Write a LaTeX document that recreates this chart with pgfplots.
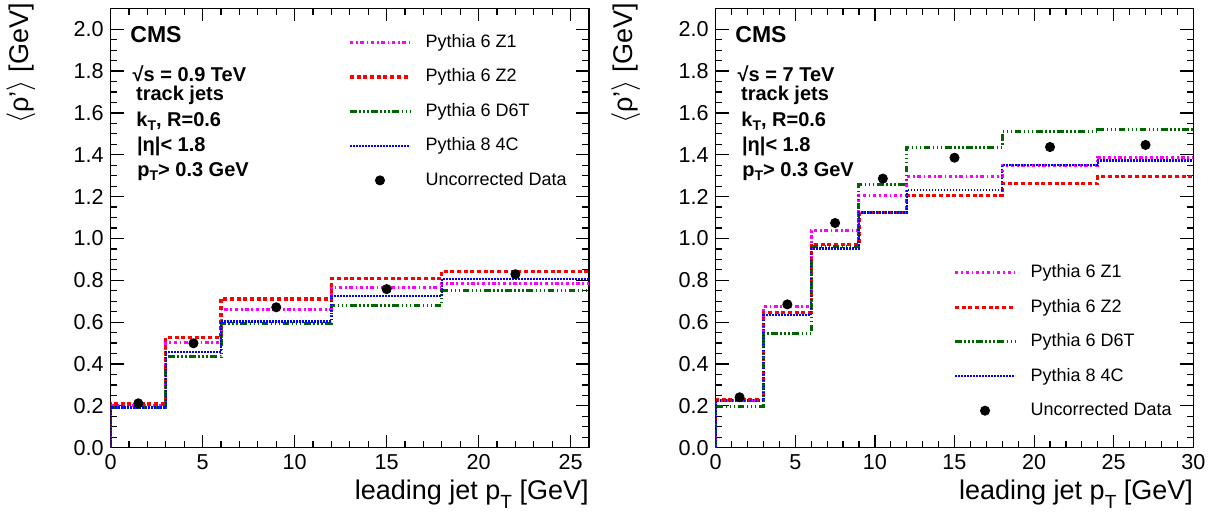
\documentclass[border=0pt]{standalone}
\usepackage{fontspec}
\setmainfont{Liberation Sans}
\usepackage{pgfplots}
\pgfplotsset{compat=1.18}

\definecolor{zone}{rgb}{1,0,1}
\definecolor{ztwo}{rgb}{1,0,0}
\definecolor{dsixt}{rgb}{0,0.4,0}
\definecolor{fourc}{rgb}{0,0,1}

\newcommand\sub[1]{\raisebox{-0.45ex}{\fontsize{7}{8}\selectfont #1}}
\newcommand\bigsub[1]{\raisebox{-0.6ex}{\fontsize{9.5}{10}\selectfont #1}}

\pgfplotsset{
  rootstyle/.style={
    scale only axis,
    anchor=south west,
    height=219.7pt,
    ymin=0, ymax=2.1,
    ytick={0,0.2,0.4,0.6,0.8,1.0,1.2,1.4,1.6,1.8,2.0},
    minor y tick num=3,
    minor x tick num=4,
    tick align=inside,
    major tick length=6.5pt,
    minor tick length=3.3pt,
    axis line style={line width=0.7pt},
    every tick/.style={black, line width=0.6pt},
    ticklabel style={font=\fontsize{10.8}{12}\selectfont},
    /pgf/number format/assume math mode=true,
    yticklabel style={/pgf/number format/.cd, fixed, fixed zerofill, precision=1},
    xlabel={leading jet p\bigsub{T} [GeV]},
    ylabel={{$\langle$}ρ'{$\rangle$} [GeV]},
    label style={font=\fontsize{13.5}{15}\selectfont},
    xlabel style={at={(rel axis cs:1,0)}, anchor=base east, inner sep=0pt, yshift=-26pt},
    legend cell align=left,
    legend image code/.code={\draw[##1] (0pt,0pt) -- (30pt,0pt);},
    legend style={draw=none, fill=none, font=\fontsize{9}{11}\selectfont,
      anchor=north west, row sep=4.25pt, column sep=5pt, inner sep=0pt,
      nodes={inner sep=2pt, text height=7pt, text depth=2pt}},
  },
  zonestyle/.style={zone, line width=1.5pt, const plot, dash pattern=on 1.7pt off 1.35pt on 0.85pt off 1.35pt},
  ztwostyle/.style={ztwo, line width=1.6pt, const plot, dash pattern=on 2pt off 1.35pt},
  dsixtstyle/.style={dsixt, line width=1.5pt, const plot, dash pattern=on 3.3pt off 1.3pt on 0.7pt off 1.3pt on 0.7pt off 1.3pt on 0.7pt off 1.3pt},
  fourcstyle/.style={fourc, line width=1.2pt, const plot, dash pattern=on 0.8pt off 0.7pt},
  datastyle/.style={black, only marks, mark=*, mark size=2.3pt,
    legend image code/.code={\draw[##1] plot coordinates {(15pt,0pt)};}},
}

\begin{document}
\begin{tikzpicture}
\useasboundingbox (0,0) rectangle (608.5pt,255.5pt);

% left panel, sqrt(s) = 0.9 TeV
\begin{axis}[rootstyle,
  at={(55.35pt,31.65pt)}, width=239.15pt,
  xmin=0, xmax=26, xtick={0,5,10,15,20,25},
  ylabel style={at={(rel axis cs:-0.1729,1.0121)}, anchor=base east, inner sep=0pt},
  legend style={at={(0.4961,0.9529)}},
]
\addplot[zonestyle] coordinates {(0,0) (0,0.200) (3,0.502) (6,0.661) (12,0.766) (18,0.786) (26,0.786)};
\addlegendentry{Pythia 6 Z1}
\addplot[ztwostyle] coordinates {(0,0) (0,0.209) (3,0.527) (6,0.711) (12,0.808) (18,0.843) (26,0.843)};
\addlegendentry{Pythia 6 Z2}
\addplot[dsixtstyle] coordinates {(0,0) (0,0.190) (3,0.435) (6,0.596) (12,0.680) (18,0.749) (26,0.749)};
\addlegendentry{Pythia 6 D6T}
\addplot[fourcstyle] coordinates {(0,0) (0,0.193) (3,0.457) (6,0.604) (12,0.725) (18,0.806) (26,0.806)};
\addlegendentry{Pythia 8 4C}
\addplot[datastyle] coordinates {(1.5,0.212) (4.5,0.499) (9,0.671) (15,0.758) (22,0.829)};
\addlegendentry{Uncorrected Data}
\end{axis}

% right panel, sqrt(s) = 7 TeV
\begin{axis}[rootstyle,
  at={(357.85pt,31.65pt)}, width=238.8pt,
  xmin=0, xmax=30, xtick={0,5,10,15,20,25,30},
  ylabel style={at={(rel axis cs:-0.1732,1.0121)}, anchor=base east, inner sep=0pt},
  legend style={at={(0.4969,0.4288)}},
]
\addplot[zonestyle] coordinates {(0,0) (0,0.228) (3,0.674) (6,1.036) (9,1.205) (12,1.294) (18,1.350) (24,1.388) (30,1.388)};
\addlegendentry{Pythia 6 Z1}
\addplot[ztwostyle] coordinates {(0,0) (0,0.228) (3,0.647) (6,0.972) (9,1.125) (12,1.206) (18,1.262) (24,1.295) (30,1.295)};
\addlegendentry{Pythia 6 Z2}
\addplot[dsixtstyle] coordinates {(0,0) (0,0.199) (3,0.545) (6,0.961) (9,1.256) (12,1.437) (18,1.509) (24,1.519) (30,1.519)};
\addlegendentry{Pythia 6 D6T}
\addplot[fourcstyle] coordinates {(0,0) (0,0.225) (3,0.633) (6,0.953) (9,1.125) (12,1.233) (18,1.350) (24,1.373) (30,1.373)};
\addlegendentry{Pythia 8 4C}
\addplot[datastyle, error bars/.cd, y dir=both, y explicit, error mark=none,
  error bar style={line width=0.8pt}] coordinates {
  (1.5,0.241) +- (0,0.005) (4.5,0.685) +- (0,0.005) (7.5,1.074) +- (0,0.005)
  (10.5,1.286) +- (0,0.008) (15,1.386) +- (0,0.01) (21,1.437) +- (0,0.022)
  (27,1.447) +- (0,0.022)};
\addlegendentry{Uncorrected Data}
\end{axis}

% text on the panels
\begin{scope}[every node/.style={anchor=base west, inner sep=0pt, font=\fontsize{10}{12}\selectfont\bfseries}]
\node[font=\fontsize{11.5}{13}\selectfont\bfseries] at (65pt,234.15pt) {CMS};
\node at (66.15pt,215pt) {√s = 0.9 TeV};
\node at (67.85pt,205.5pt) {track jets};
\node at (68pt,192.5pt) {k\sub{T}, R=0.6};
\node at (68.35pt,180pt) {|η|< 1.8};
\node at (68.5pt,167.5pt) {p\sub{T}> 0.3 GeV};

\node[font=\fontsize{11.5}{13}\selectfont\bfseries] at (367.5pt,234.15pt) {CMS};
\node at (368.65pt,215pt) {√s = 7 TeV};
\node at (370.35pt,205.5pt) {track jets};
\node at (370.5pt,192.5pt) {k\sub{T}, R=0.6};
\node at (370.85pt,180pt) {|η|< 1.8};
\node at (371pt,167.5pt) {p\sub{T}> 0.3 GeV};
\end{scope}
\end{tikzpicture}
\end{document}
